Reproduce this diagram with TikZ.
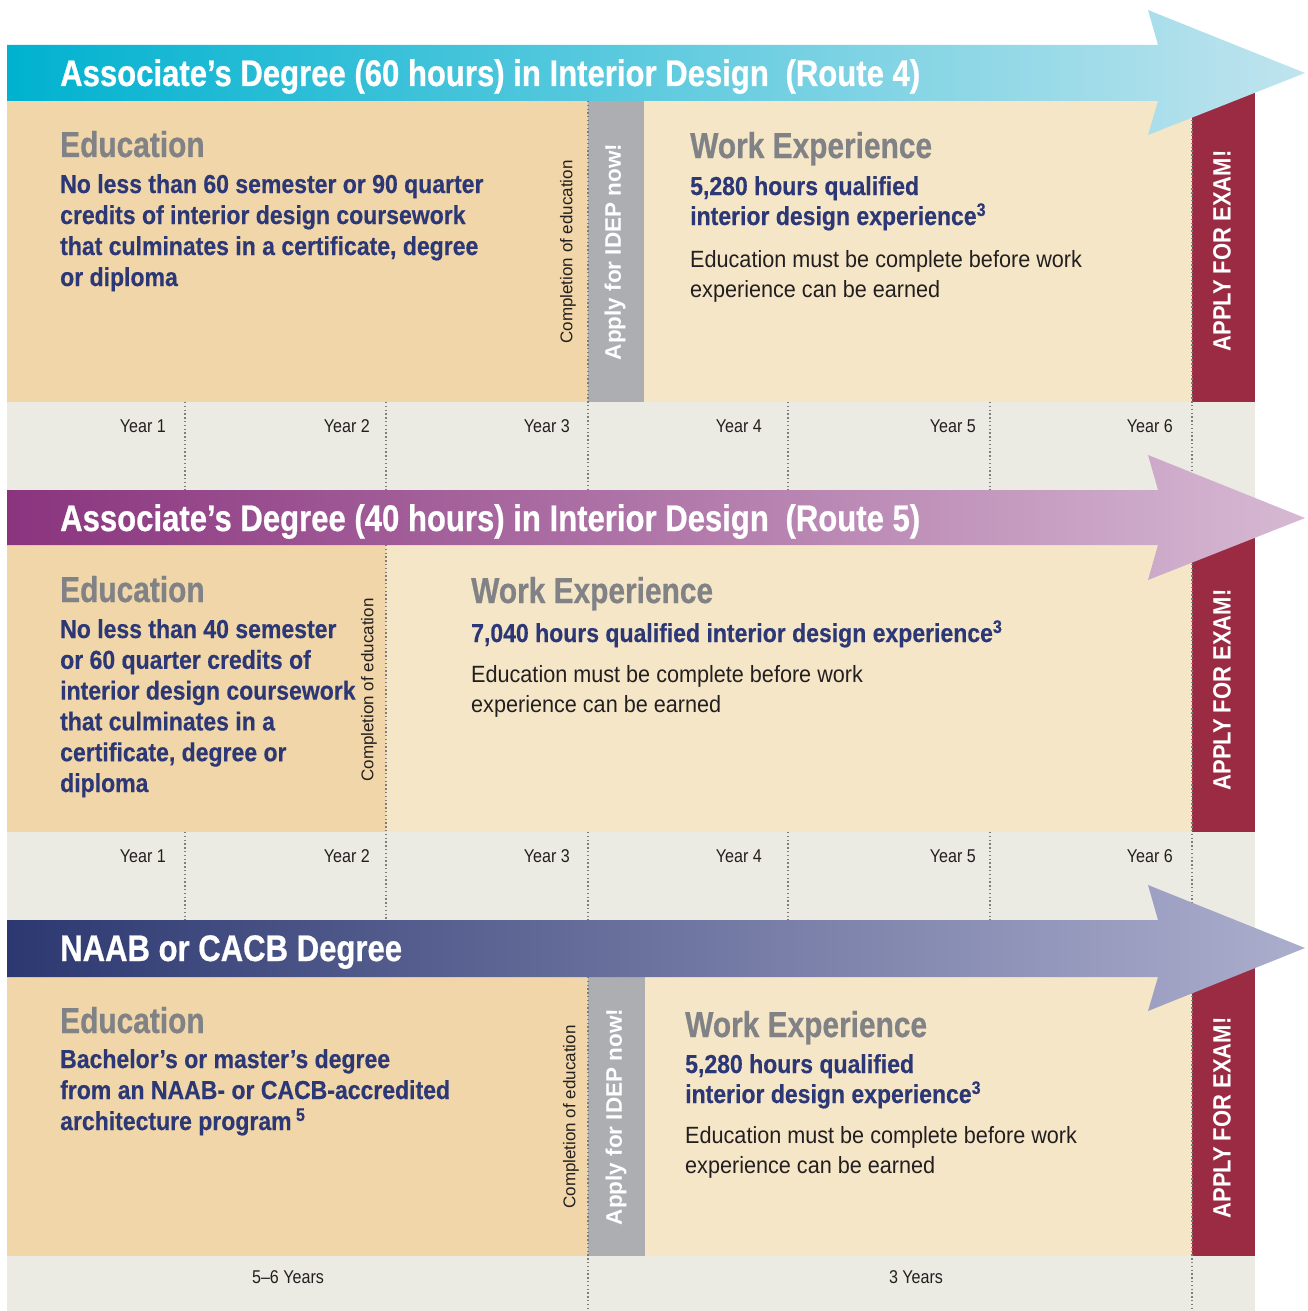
\documentclass[tikz,border=0pt]{standalone}
\usepackage{fontspec}
\setmainfont{Liberation Sans}
\newfontfamily\titlef[FakeStretch=0.84,FakeBold=0.6]{Liberation Sans}
\newfontfamily\headf[FakeStretch=0.83,FakeBold=0.6]{Liberation Sans}
\newfontfamily\bluef[FakeStretch=0.885,FakeBold=0.4]{Liberation Sans}
\newfontfamily\bodyf[FakeStretch=0.92]{Liberation Sans}
\newfontfamily\yearf[FakeStretch=0.87]{Liberation Sans}
\newfontfamily\examf[FakeStretch=0.88]{Liberation Sans}
\definecolor{bandAl}{RGB}{0,178,208}
\definecolor{bandAr}{RGB}{192,228,238}
\definecolor{bandBl}{RGB}{138,52,126}
\definecolor{bandBr}{RGB}{214,185,211}
\definecolor{bandCl}{RGB}{44,56,112}
\definecolor{bandCr}{RGB}{172,174,205}
\definecolor{tanD}{RGB}{240,214,168}
\definecolor{tanL}{RGB}{246,230,200}
\definecolor{stripG}{RGB}{173,174,178}
\definecolor{examR}{RGB}{154,43,67}
\definecolor{rowG}{RGB}{236,235,227}
\definecolor{navyT}{RGB}{44,55,118}
\definecolor{grayT}{RGB}{128,130,133}
\definecolor{darkT}{RGB}{35,31,32}
\definecolor{dotG}{RGB}{125,125,125}
\begin{document}
\begin{tikzpicture}[x=1pt,y=-1pt,
  txt/.style={inner sep=0pt, anchor=base west},
  titletxt/.style={txt, text=white, font=\titlef\bfseries\fontsize{37}{37}\selectfont},
  headtxt/.style={txt, text=grayT, font=\headf\bfseries\fontsize{36}{36}\selectfont},
  bluetxt/.style={txt, text=navyT, font=\bluef\bfseries\fontsize{26}{26}\selectfont},
  bodytxt/.style={txt, text=darkT, font=\bodyf\fontsize{23.5}{23.5}\selectfont},
  yeartxt/.style={inner sep=0pt, anchor=base east, text=darkT, font=\yearf\fontsize{18.5}{18.5}\selectfont},
  spantxt/.style={inner sep=0pt, anchor=base, text=darkT, font=\yearf\fontsize{18.5}{18.5}\selectfont},
  comptxt/.style={inner sep=0pt, rotate=90, text=darkT, font=\fontsize{17}{17}\selectfont},
  ideptxt/.style={inner sep=0pt, rotate=90, text=white, font=\bfseries\fontsize{22.5}{22.5}\selectfont},
  examtxt/.style={inner sep=0pt, rotate=90, text=white, font=\examf\bfseries\fontsize{25}{25}\selectfont},
  dotline/.style={draw=dotG, line width=1.3pt, dash pattern=on 1.3pt off 2.5pt},
]
\useasboundingbox (0,0) rectangle (1307,1311);
\fill[white] (0,0) rectangle (1307,1311);
\fill[rowG] (7,101) rectangle (1255,1311);

% ---------- Section 1 ----------
\fill[tanD] (7,101) rectangle (588,402);
\fill[stripG] (588,101) rectangle (644,402);
\fill[tanL] (644,101) rectangle (1192,402);
\fill[examR] (1192,60) rectangle (1255,402);
% ---------- Section 2 ----------
\fill[tanD] (7,545) rectangle (386,832);
\fill[tanL] (386,545) rectangle (1192,832);
\fill[examR] (1192,505) rectangle (1255,832);
% ---------- Section 3 ----------
\fill[tanD] (7,977) rectangle (588,1256);
\fill[stripG] (588,977) rectangle (645,1256);
\fill[tanL] (645,977) rectangle (1192,1256);
\fill[examR] (1192,935) rectangle (1255,1256);

% dotted lines
\draw[dotline] (588,101) -- (588,490);
\draw[dotline] (1192,101) -- (1192,490);
\foreach \xx in {185,386,788,990} \draw[dotline] (\xx,402) -- (\xx,490);
\draw[dotline] (386,545) -- (386,920);
\draw[dotline] (1192,545) -- (1192,920);
\foreach \xx in {185,588,788,990} \draw[dotline] (\xx,832) -- (\xx,920);
\draw[dotline] (588,977) -- (588,1311);
\draw[dotline] (1192,977) -- (1192,1311);

% arrows
\shade[left color=bandAl, right color=bandAr]
  (7,45) -- (1158,45) -- (1148,10) -- (1305,73) -- (1148,135) -- (1158,101) -- (7,101) -- cycle;
\shade[left color=bandBl, right color=bandBr]
  (7,490) -- (1158,490) -- (1148,455) -- (1305,518) -- (1148,580) -- (1158,545) -- (7,545) -- cycle;
\shade[left color=bandCl, right color=bandCr]
  (7,920) -- (1158,920) -- (1148,885) -- (1305,948) -- (1148,1011) -- (1158,977) -- (7,977) -- cycle;

% titles
\node[titletxt] (title1) at (60,86) {Associate’s Degree (60 hours) in Interior Design\hspace{0.45em}(Route 4)};
\node[titletxt] (title2) at (60,531) {Associate’s Degree (40 hours) in Interior Design\hspace{0.45em}(Route 5)};
\node[titletxt] (title3) at (60,961) {NAAB or CACB Degree};

% ---------- Section 1 texts ----------
\node[headtxt] (edu1) at (60,157) {Education};
\foreach \s [count=\i] in {No less than 60 semester or 90 quarter, credits of interior design coursework, {that culminates in a certificate, degree}, or diploma}
  \node[bluetxt] (eduA\i) at (60,{193+31*(\i-1)}) {\s};
\node[headtxt] (work1) at (690,158) {Work Experience};
\node[bluetxt] (workA1) at (690,195) {5,280 hours qualified};
\node[bluetxt] (workA2) at (690,225) {interior design experience\textsuperscript{3}};
\node[bodytxt] (noteA1) at (690,267) {Education must be complete before work};
\node[bodytxt] (noteA2) at (690,297) {experience can be earned};
\node[comptxt] (compA) at (568,252) {Completion of education};
\node[ideptxt] (idepA) at (615,252) {Apply for IDEP now!};
\node[examtxt] (examA) at (1222,251) {APPLY FOR EXAM!};
\node[yeartxt] (yA1) at (166,432) {Year 1};
\node[yeartxt] (yA2) at (370,432) {Year 2};
\node[yeartxt] (yA3) at (570,432) {Year 3};
\node[yeartxt] (yA4) at (762,432) {Year 4};
\node[yeartxt] (yA5) at (976,432) {Year 5};
\node[yeartxt] (yA6) at (1173,432) {Year 6};

% ---------- Section 2 texts ----------
\node[headtxt] (edu2) at (60,602) {Education};
\foreach \s [count=\i] in {No less than 40 semester, or 60 quarter credits of, interior design coursework, that culminates in a, {certificate, degree or}, diploma}
  \node[bluetxt] (eduB\i) at (60,{638+30.8*(\i-1)}) {\s};
\node[headtxt] (work2) at (471,603) {Work Experience};
\node[bluetxt] (workB1) at (471,642) {7,040 hours qualified interior design experience\textsuperscript{3}};
\node[bodytxt] (noteB1) at (471,682) {Education must be complete before work};
\node[bodytxt] (noteB2) at (471,712) {experience can be earned};
\node[comptxt] (compB) at (369,690) {Completion of education};
\node[examtxt] (examB) at (1222,690) {APPLY FOR EXAM!};
\node[yeartxt] (yB1) at (166,862) {Year 1};
\node[yeartxt] (yB2) at (370,862) {Year 2};
\node[yeartxt] (yB3) at (570,862) {Year 3};
\node[yeartxt] (yB4) at (762,862) {Year 4};
\node[yeartxt] (yB5) at (976,862) {Year 5};
\node[yeartxt] (yB6) at (1173,862) {Year 6};

% ---------- Section 3 texts ----------
\node[headtxt] (edu3) at (60,1033) {Education};
\node[bluetxt] (eduC1) at (60,1068) {Bachelor’s or master’s degree};
\node[bluetxt] (eduC2) at (60,1099) {from an NAAB- or CACB-accredited};
\node[bluetxt] (eduC3) at (60,1130) {architecture program\,\textsuperscript{5}};
\node[headtxt] (work3) at (685,1037) {Work Experience};
\node[bluetxt] (workC1) at (685,1073) {5,280 hours qualified};
\node[bluetxt] (workC2) at (685,1103) {interior design experience\textsuperscript{3}};
\node[bodytxt] (noteC1) at (685,1143) {Education must be complete before work};
\node[bodytxt] (noteC2) at (685,1173) {experience can be earned};
\node[comptxt] (compC) at (571,1117) {Completion of education};
\node[ideptxt] (idepC) at (616,1117) {Apply for IDEP now!};
\node[examtxt] (examC) at (1222,1118) {APPLY FOR EXAM!};
\node[spantxt] (spanC1) at (288,1283) {5–6 Years};
\node[spantxt] (spanC2) at (916,1283) {3 Years};
\end{tikzpicture}
\end{document}
